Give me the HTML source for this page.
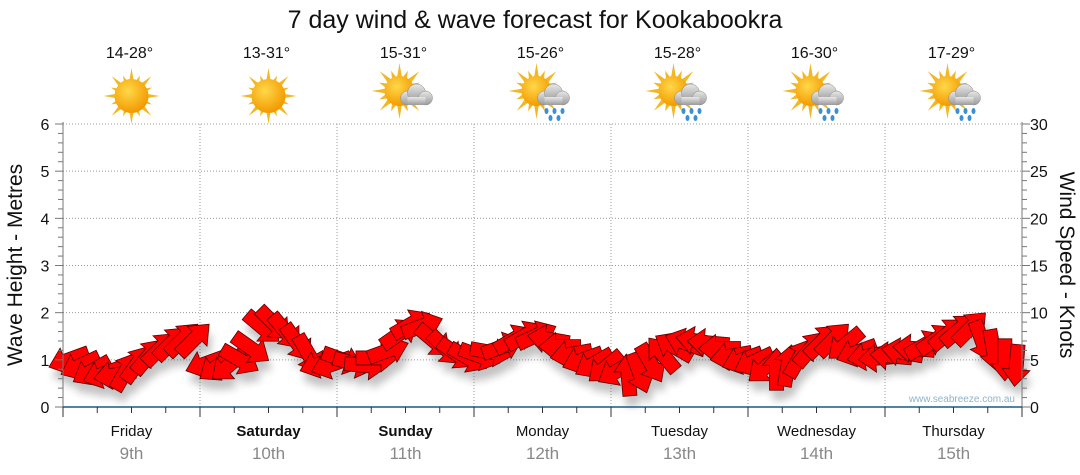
<!DOCTYPE html>
<html><head><meta charset="utf-8"><style>
body{margin:0;background:#fff;}
svg{display:block;font-family:"Liberation Sans","DejaVu Sans",sans-serif;}
</style></head><body>
<svg id="c" width="1080" height="475">
<defs>
<radialGradient id="sung" cx="40%" cy="35%" r="65%"><stop offset="0" stop-color="#ffd84a"/><stop offset="1" stop-color="#f39a00"/></radialGradient>
<linearGradient id="cloudg" x1="0" y1="0" x2="0" y2="1"><stop offset="0" stop-color="#e8e8e8"/><stop offset="1" stop-color="#9a9a9a"/></linearGradient>
<filter id="sh" x="-50%" y="-50%" width="200%" height="200%"><feGaussianBlur stdDeviation="4"/></filter>
</defs>
<text x="535" y="28" font-size="25" text-anchor="middle" fill="#111">7 day wind &amp; wave forecast for Kookabookra</text>
<g id="grid"></g>
<g id="top"></g>
<g id="shadows" filter="url(#sh)" opacity="0.35"></g>
<g id="arrows"></g>
<g id="axes"></g>
<text x="1015" y="402" font-size="10" text-anchor="end" fill="#8fb3cc">www.seabreeze.com.au</text>
<text transform="translate(22,265) rotate(-90)" font-size="21" text-anchor="middle" fill="#111">Wave Height - Metres</text>
<text transform="translate(1060,265) rotate(90)" font-size="21" text-anchor="middle" fill="#111">Wind Speed - Knots</text>
</svg>
<script>
const days=["Friday","Saturday","Sunday","Monday","Tuesday","Wednesday","Thursday"];
const dates=["9th","10th","11th","12th","13th","14th","15th"];
const bold=[false,true,true,false,false,false,false];
const temps=["14-28°","13-31°","15-31°","15-26°","15-28°","16-30°","17-29°"];
const icons=["sun","sun","cloud","rain","rain","rain","rain"];
const leftTicks=[0,1,2,3,4,5,6];
const rightTicks=[0,5,10,15,20,25,30];
// wind speed (knots), 2-hourly, 12 per day
const windSpeed=[5.0,4.4,3.8,3.5,3.4,3.8,4.6,5.4,6.2,6.8,7.2,7.2,
 4.6,4.3,4.4,5.0,6.2,8.4,8.8,8.0,6.8,5.6,4.6,4.5,
 5.0,4.6,4.4,5.2,6.0,7.8,8.8,8.6,7.0,6.2,5.6,5.2,
 5.4,5.8,6.4,7.2,7.6,7.6,7.2,6.4,5.6,5.0,4.6,4.2,
 3.8,3.4,3.6,4.6,5.6,6.4,6.8,7.0,6.8,6.2,5.4,5.0,
 4.8,4.2,4.0,4.4,5.2,6.2,7.0,7.2,6.6,5.8,5.4,5.2,
 5.4,5.8,6.2,6.6,7.2,7.8,8.2,8.4,7.0,6.0,5.0,4.4];
// direction arrow points (degrees, 0=right, 90=up)
const windDir=[200,205,210,200,190,60,55,50,45,45,45,45,
 200,215,220,-30,-35,-40,-45,-50,-55,-60,200,200,
 -20,-15,-5,0,20,35,30,20,-40,-45,-35,-30,
 -20,-10,20,30,30,25,170,180,190,200,210,220,
 210,95,-70,-60,130,150,160,170,175,180,190,200,
 205,220,90,80,60,50,45,45,220,200,190,185,
 175,170,175,30,35,40,40,45,-70,-80,-90,-95];
const X0=63,X1=1022,Y0=407,Y6=124,DW=(X1-X0)/7;
const yL=v=>Y0-(Y0-Y6)*v/6, yR=v=>Y0-(Y0-Y6)*v/30;
const xI=i=>X0+(i+0.5)*DW/12;
const NS="http://www.w3.org/2000/svg";
function mk(p,t,a){const e=document.createElementNS(NS,t);for(const k in a)e.setAttribute(k,a[k]);document.getElementById(p).appendChild(e);return e;}
// grid
leftTicks.forEach(v=>{if(v>0){const l=mk("grid","line",{x1:X0,x2:X1,y1:yL(v),y2:yL(v),stroke:"#999","stroke-dasharray":"1,2"});

}});
for(let d=1;d<=7;d++){const l=mk("grid","line",{x1:X0+d*DW,x2:X0+d*DW,y1:Y6,y2:Y0,stroke:"#999","stroke-dasharray":"1,2"});

}
// axes
mk("axes","line",{x1:X0,x2:X0,y1:Y6-2,y2:Y0,stroke:"#777"});
mk("axes","line",{x1:X1,x2:X1,y1:Y6-2,y2:Y0,stroke:"#777"});
mk("axes","line",{x1:X0,x2:X1,y1:Y0,y2:Y0,stroke:"#1a5a86","stroke-width":1.5});
for(let m=0;m<=30;m++){const y=yL(m/5);const big=m%5==0;
mk("axes","line",{x1:X0-(big?8:5),x2:X0,y1:y,y2:y,stroke:"#777"});
mk("axes","line",{x1:X1,x2:X1+(big?8:5),y1:y,y2:y,stroke:"#777"});}
leftTicks.forEach(v=>{const t=mk("axes","text",{x:45,y:yL(v)+6,"font-size":16,"text-anchor":"middle",fill:"#111"});t.textContent=v;

});
rightTicks.forEach(v=>{const t=mk("axes","text",{x:1030,y:yR(v)+6,"font-size":16,fill:"#111"});t.textContent=v;

});
for(let k=0;k<=28;k++){const x=X0+k*DW/4;mk("axes","line",{x1:x,x2:x,y1:Y0,y2:Y0+(k%4==0?10:6),stroke:"#333"});}
// day labels & icons
days.forEach((d,i)=>{const cx=X0+(i+0.5)*DW;
const t=mk("axes","text",{x:cx,y:436,"font-size":15,"text-anchor":"middle",fill:"#111","font-weight":bold[i]?"bold":"normal"});t.textContent=d;


const t2=mk("axes","text",{x:cx,y:459,"font-size":17,"text-anchor":"middle",fill:"#888"});t2.textContent=dates[i];


const t3=mk("top","text",{x:cx-2,y:58,"font-size":16,"text-anchor":"middle",fill:"#111"});t3.textContent=temps[i];


const g=mk("top","g",{transform:`translate(${cx},${icons[i]=="sun"?96:92})`});


const sx=icons[i]=="sun"?0:-6, sy=icons[i]=="sun"?0:-1;
let rays="";for(let r=0;r<16;r++){const a=r*Math.PI/8,L=r%2?22:28;rays+=`<polygon points="${sx+Math.cos(a)*L},${sy+Math.sin(a)*L} ${sx+Math.cos(a+0.2)*13},${sy+Math.sin(a+0.2)*13} ${sx+Math.cos(a-0.2)*13},${sy+Math.sin(a-0.2)*13}" fill="#f2b824"/>`;}
let html=rays+`<circle cx="${sx}" cy="${sy}" r="${icons[i]=="sun"?17:15}" fill="url(#sung)"/>`;
if(icons[i]!="sun"){html+=`<g fill="url(#cloudg)" stroke="#888" stroke-width="0.5"><circle cx="2" cy="6" r="7"/><circle cx="11" cy="1" r="9"/><circle cx="20" cy="6" r="7"/><rect x="2" y="5" width="18" height="8" stroke="none"/></g>`;}
if(icons[i]=="rain"){html+=`<g fill="#3a8fd6"><ellipse cx="4" cy="19" rx="2" ry="3"/><ellipse cx="12" cy="19" rx="2" ry="3"/><ellipse cx="20" cy="19" rx="2" ry="3"/><ellipse cx="8" cy="26" rx="2" ry="3"/><ellipse cx="16" cy="26" rx="2" ry="3"/></g>`;}
g.innerHTML=html;});
// arrows
const AP="-21,-7 4,-7 4,-14 21,0 4,14 4,7 -21,7";
windSpeed.forEach((s,i)=>{const x=xI(i),y=yR(s),a=-windDir[i];
mk("shadows","polygon",{points:AP,transform:`translate(${x+3},${y+10}) rotate(${a})`,fill:"#555"});
const p=mk("arrows","polygon",{points:AP,transform:`translate(${x},${y}) rotate(${a})`,fill:"#ff0000",stroke:"#5a0000","stroke-width":0.8});

});
</script>
</body></html>
